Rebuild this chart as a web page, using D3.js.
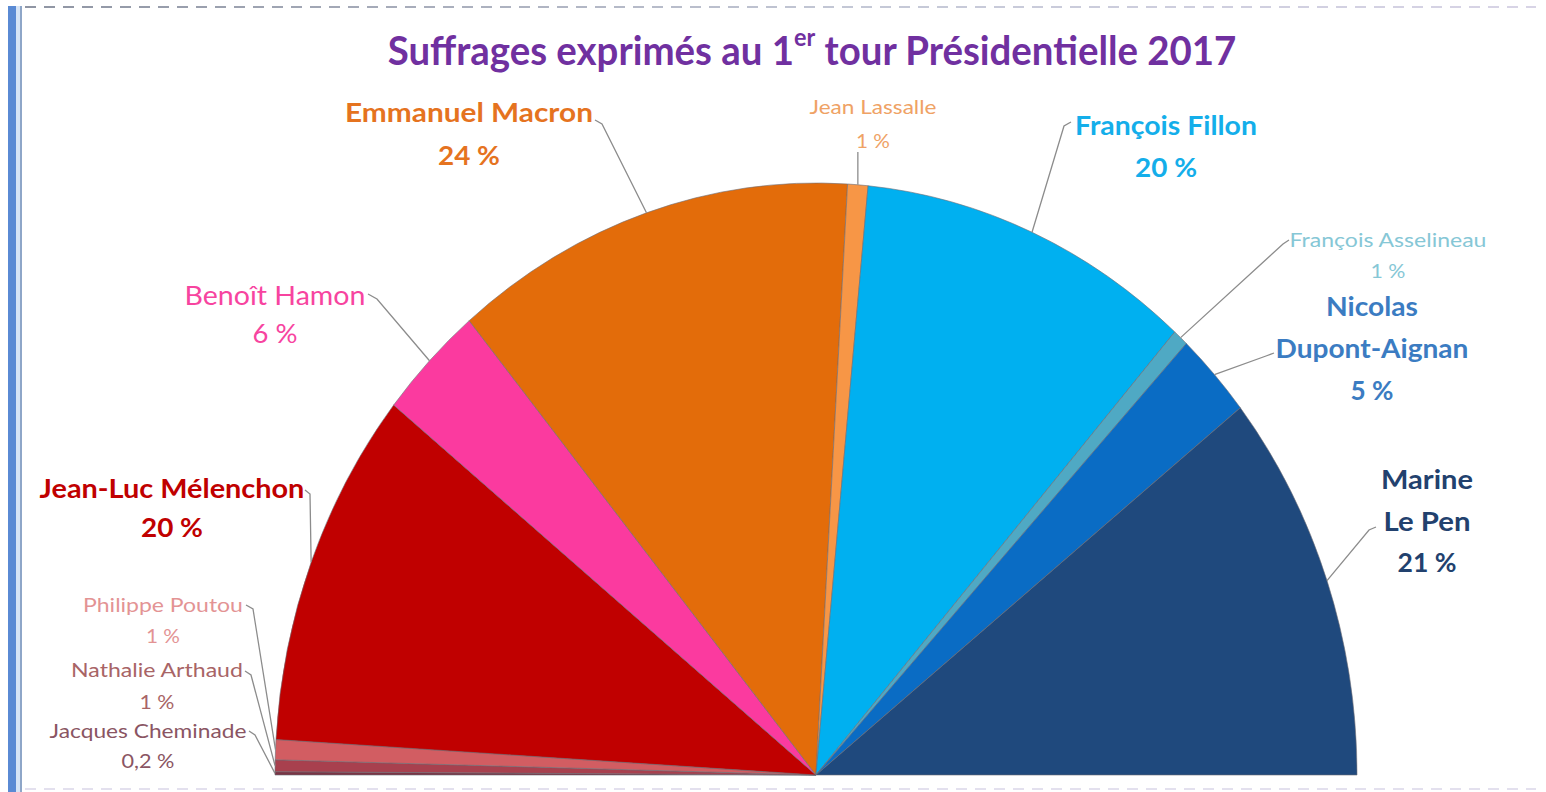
<!DOCTYPE html>
<html>
<head>
    <meta charset="utf-8">
    <title>Suffrages exprimés au 1er tour Présidentielle 2017</title>
    <script type="text/javascript" src="https://cdn.jsdelivr.net/npm/d3@7"></script>
    <style type="text/css">
        html, body {
            margin: 0;
            background: #fff;
        }
        svg {
            display: block;
            font-family: Lato, "Open Sans", sans-serif;
        }
        .leader {
            fill: none;
            stroke: #8c8c8c;
            stroke-width: 1.3;
        }
    </style>
</head>
<body>
<script type="text/javascript">
    // candidates, in order around the half circle (left to right)
    var candidates = ["Jacques Cheminade", "Nathalie Arthaud", "Philippe Poutou", "Jean-Luc Mélenchon",
        "Benoît Hamon", "Emmanuel Macron", "Jean Lassalle", "François Fillon",
        "François Asselineau", "Nicolas Dupont-Aignan", "Marine Le Pen"];
    var shares = [0.18, 0.64, 1.09, 19.58, 6.36, 24.01, 1.21, 20.01, 0.92, 4.70, 21.30];
    var shareLabels = ["0,2 %", "1 %", "1 %", "20 %", "6 %", "24 %", "1 %", "20 %", "1 %", "5 %", "21 %"];
    var sliceColors = ["#7a3444", "#a8404e", "#d25d62", "#c00000", "#fb3a9f", "#e36c0a",
        "#f79646", "#00b0f0", "#4fa9c4", "#0a6cc4", "#1f497d"];
    var labelColors = ["#8a5563", "#a86466", "#e39394", "#c00000", "#f7449f", "#e5731f",
        "#efa265", "#14aeea", "#86c7d6", "#3b7cc2", "#22416e"];

    var w = 1546, h = 792,
        cx = 816, cy = 775, rx = 541, ry = 592;

    // label layout: name lines, centre x, middle y of first line, line step, size, width of each line
    var layout = [
        {lines: ["Jacques Cheminade"], x: 148, y: 730, step: 31, size: 19, bold: false, widths: [197, 53],
            hook: [[249, 731], [255, 735]]},
        {lines: ["Nathalie Arthaud"], x: 157, y: 670, step: 31, size: 19, bold: false, widths: [172, 35],
            hook: [[245, 671], [251, 675]]},
        {lines: ["Philippe Poutou"], x: 163, y: 604, step: 31, size: 19, bold: false, widths: [160, 34],
            hook: [[246, 605], [253, 609]]},
        {lines: ["Jean-Luc Mélenchon"], x: 172, y: 487, step: 40, size: 27, bold: true, widths: [265, 62],
            hook: [[305, 490], [310, 494]]},
        {lines: ["Benoît Hamon"], x: 275, y: 295, step: 38, size: 27, bold: false, widths: [181, 45],
            hook: [[368, 294], [377, 299]]},
        {lines: ["Emmanuel Macron"], x: 469, y: 112, step: 43, size: 27, bold: true, widths: [248, 62],
            hook: [[595, 120], [602, 124]]},
        {lines: ["Jean Lassalle"], x: 873, y: 106, step: 34, size: 19, bold: false, widths: [127, 34],
            hook: null, top: 152},
        {lines: ["François Fillon"], x: 1166, y: 125, step: 42, size: 27, bold: true, widths: [182, 62],
            hook: [[1071, 122], [1064, 126]]},
        {lines: ["François Asselineau"], x: 1388, y: 239, step: 31, size: 19, bold: false, widths: [197, 35],
            hook: [[1289, 240], [1283, 244]]},
        {lines: ["Nicolas", "Dupont-Aignan"], x: 1372, y: 306, step: 42, size: 27, bold: true, widths: [92, 193, 43],
            hook: [[1274, 353], [1266, 356]]},
        {lines: ["Marine", "Le Pen"], x: 1427, y: 478, step: 42, size: 27, bold: true, widths: [92, 87, 59],
            hook: [[1376, 527], [1369, 530]]}
    ];

    var svg = d3.select("body")
        .append("svg")
            .attr("width", w)
            .attr("height", h);

    // frame: blue bar on the left, dashed rule at top and bottom
    svg.append("rect").attr("x", 8).attr("y", 6).attr("width", 8).attr("height", h - 6).attr("fill", "#5a8ad4");
    svg.append("rect").attr("x", 16).attr("y", 6).attr("width", 4).attr("height", h - 6).attr("fill", "#d6e4f6");
    svg.append("rect").attr("x", 20).attr("y", 6).attr("width", 2).attr("height", h - 6).attr("fill", "#8ea6c8");

    var dashGrad = svg.append("defs").append("linearGradient")
        .attr("id", "dash")
        .attr("gradientUnits", "userSpaceOnUse")
        .attr("x1", 25).attr("x2", w - 10).attr("y1", 0).attr("y2", 0);
    dashGrad.append("stop").attr("offset", "0%").attr("stop-color", "#8f95a3");
    dashGrad.append("stop").attr("offset", "55%").attr("stop-color", "#c4c8d6");
    dashGrad.append("stop").attr("offset", "100%").attr("stop-color", "#d8d4e6");

    svg.append("line").attr("x1", 25).attr("x2", w - 10).attr("y1", 7).attr("y2", 7)
        .attr("stroke", "url(#dash)").attr("stroke-width", 2).attr("stroke-dasharray", "11,8");
    svg.append("line").attr("x1", 25).attr("x2", w - 10).attr("y1", 789).attr("y2", 789)
        .attr("stroke", "#e3e0ee").attr("stroke-width", 2).attr("stroke-dasharray", "11,8");

    // title
    var title = svg.append("text")
        .attr("x", 812).attr("y", 48)
        .attr("text-anchor", "middle")
        .attr("dominant-baseline", "central")
        .attr("fill", "#7030a0")
        .attr("font-size", 41)
        .attr("font-weight", "bold");
    title.append("tspan").text("Suffrages exprimés au 1");
    title.append("tspan").attr("font-size", 25).attr("dy", -12).text("er");
    title.append("tspan").attr("dy", 12).text(" tour Présidentielle 2017");
    fitWidth(title, 812, 849);

    // half pie
    var pie = d3.pie()
        .sort(null)
        .startAngle(-Math.PI / 2)
        .endAngle(Math.PI / 2);

    var arcs = pie(shares);

    var arc = d3.arc()
        .innerRadius(0)
        .outerRadius(rx);

    svg.append("g")
        .attr("transform", "translate(" + cx + "," + cy + ") scale(1," + (ry / rx) + ")")
        .selectAll("path")
        .data(arcs)
        .enter()
        .append("path")
            .attr("d", arc)
            .attr("fill", function (d, i) {return sliceColors[i];})
            .attr("stroke", "#6d6d75")
            .attr("stroke-width", 0.6)
            .attr("vector-effect", "non-scaling-stroke");

    function edgePoint(d) {
        var a = (d.startAngle + d.endAngle) / 2;
        return [cx + rx * Math.sin(a), cy - ry * Math.cos(a)];
    }

    // leader lines
    arcs.forEach(function (d, i) {
        var p = edgePoint(d), L = layout[i], pts;
        if (L.hook) {
            pts = L.hook.concat([p]);
        } else {
            pts = [[p[0], L.top], p];
        }
        svg.append("path")
            .attr("class", "leader")
            .attr("d", d3.line()(pts));
    });

    // labels
    layout.forEach(function (L, i) {
        var lines = L.lines.concat([shareLabels[i]]);
        lines.forEach(function (s, j) {
            var t = svg.append("text")
                .attr("x", L.x)
                .attr("y", L.y + j * L.step)
                .attr("text-anchor", "middle")
                .attr("dominant-baseline", "central")
                .attr("fill", labelColors[i])
                .attr("font-size", L.size)
                .attr("font-weight", L.bold ? "bold" : "normal")
                .text(s);
            fitWidth(t, L.x, L.widths[j]);
        });
    });

    function fitWidth(sel, x, target) {
        var len = sel.node().getBBox().width;
        if (!len) return;
        var k = target / len;
        sel.attr("transform", "translate(" + x + ",0) scale(" + k + ",1) translate(" + (-x) + ",0)");
    }
</script>
</body>
</html>
